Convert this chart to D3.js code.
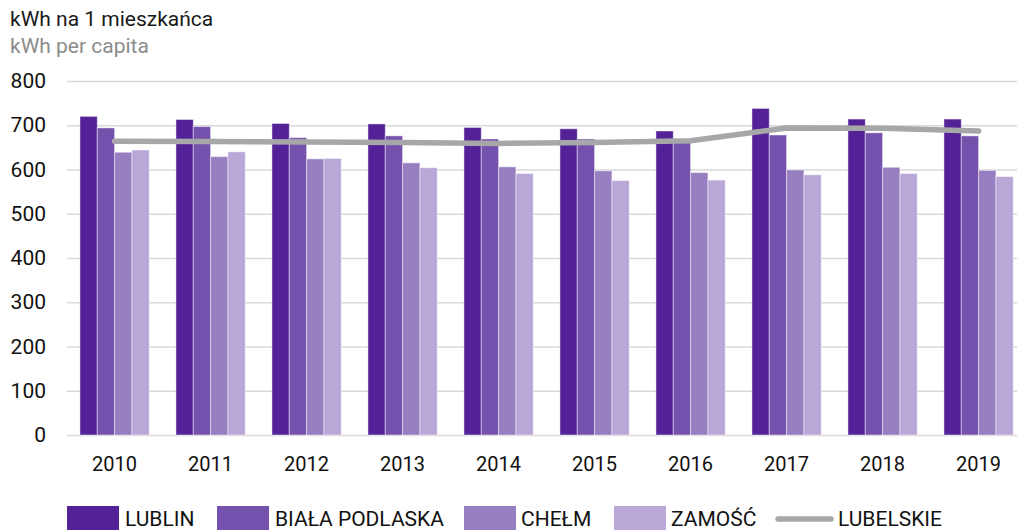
<!DOCTYPE html>
<html><head><meta charset="utf-8">
<script src="https://cdn.jsdelivr.net/npm/d3@7"></script>
<style>
html,body{margin:0;padding:0;background:#fff;}
svg{display:block;font-family:Roboto,"Open Sans",sans-serif;}
</style></head>
<body>
<svg id="chart" width="1017" height="530"></svg>
<script>
const years = ["2010","2011","2012","2013","2014","2015","2016","2017","2018","2019"];
const seriesNames = ["LUBLIN","BIAŁA PODLASKA","CHEŁM","ZAMOŚĆ"];
const lublin = [720,713,704,703,695,692,687,738,714,714];
const bialaPodlaska = [694,697,672,676,669,669,666,678,683,676];
const chelm = [639,629,624,615,606,597,593,599,605,598];
const zamosc = [644,640,625,604,591,575,576,588,591,584];
const lubelskie = [664,663,662,661,659,661,665,694,693,687];
const lineName = "LUBELSKIE";
const yTicks = [0,100,200,300,400,500,600,700,800];
const colors = ["#532296","#7451ad","#977ec0","#b9a7d7"];
const lineColor = "#a7a7a9";

const svg = d3.select("#chart");
const W = 1017;
const y = d3.scaleLinear().domain([0,800]).range([435,81]);
const x = d3.scaleBand().domain(years).range([66.6,1026.6]).paddingInner(0.278).paddingOuter(0.139);
const x1 = d3.scaleBand().domain(seriesNames).range([0,x.bandwidth()]);
const series = [lublin,bialaPodlaska,chelm,zamosc];

// title
svg.append("text").attr("x",10).attr("y",26).attr("font-size",21).attr("fill","#1a1a1a").text("kWh na 1 mieszkańca");
svg.append("text").attr("x",10).attr("y",53).attr("font-size",21).attr("fill","#8c8c8c").text("kWh per capita");

// grid
const yAxis = d3.axisLeft(y).tickValues(yTicks).tickSize(-(W-67)).tickFormat(d3.format("d"));
const gy = svg.append("g").attr("transform","translate(67,0)").call(yAxis);
gy.select(".domain").remove();
gy.selectAll(".tick line").attr("stroke","#d9d9d9").attr("stroke-width",1.5);
gy.selectAll(".tick text").attr("x",-21).attr("font-size",21).attr("fill","#111").attr("font-family","Roboto,sans-serif");

// bars
const g = svg.append("g");
years.forEach((yr,i)=>{
  const grp = g.append("g").attr("transform",`translate(${x(yr)},0)`);
  series.forEach((s,j)=>{
    grp.append("rect")
      .attr("x",x1(seriesNames[j]))
      .attr("y",y(s[i]))
      .attr("width",x1.bandwidth())
      .attr("height",y(0)-y(s[i]))
      .attr("fill",colors[j])
      .attr("stroke","rgba(255,255,255,0.45)")
      .attr("stroke-width",1);
  });
});

// line
const line = d3.line().x((d,i)=>x(years[i])+x.bandwidth()/2).y(d=>y(d));
svg.append("path").datum(lubelskie).attr("d",line).attr("fill","none")
  .attr("stroke",lineColor).attr("stroke-width",5.5).attr("stroke-linecap","round").attr("stroke-linejoin","round");

// x axis
const xAxis = d3.axisBottom(x).tickSize(0).tickPadding(0);
const gx = svg.append("g").attr("transform","translate(0,435)").call(xAxis);
gx.select(".domain").remove();
gx.selectAll(".tick text").attr("y",22).attr("dy","0.71em").attr("font-size",20).attr("fill","#111").attr("font-family","Roboto,sans-serif");

// legend
const leg = svg.append("g");
const legItems = [
  {name:seriesNames[0], sx:67, tx:125},
  {name:seriesNames[1], sx:217, tx:275},
  {name:seriesNames[2], sx:464, tx:521},
  {name:seriesNames[3], sx:614, tx:671},
];
legItems.forEach((it,j)=>{
  leg.append("rect").attr("x",it.sx).attr("y",506).attr("width",52).attr("height",26).attr("fill",colors[j]);
  leg.append("text").attr("x",it.tx).attr("y",526).attr("font-size",21).attr("fill","#111").text(it.name);
});
leg.append("line").attr("x1",778).attr("x2",831).attr("y1",519).attr("y2",519)
  .attr("stroke",lineColor).attr("stroke-width",5.5).attr("stroke-linecap","round");
leg.append("text").attr("x",838).attr("y",526).attr("font-size",21).attr("fill","#111").text(lineName);
</script>
</body></html>
